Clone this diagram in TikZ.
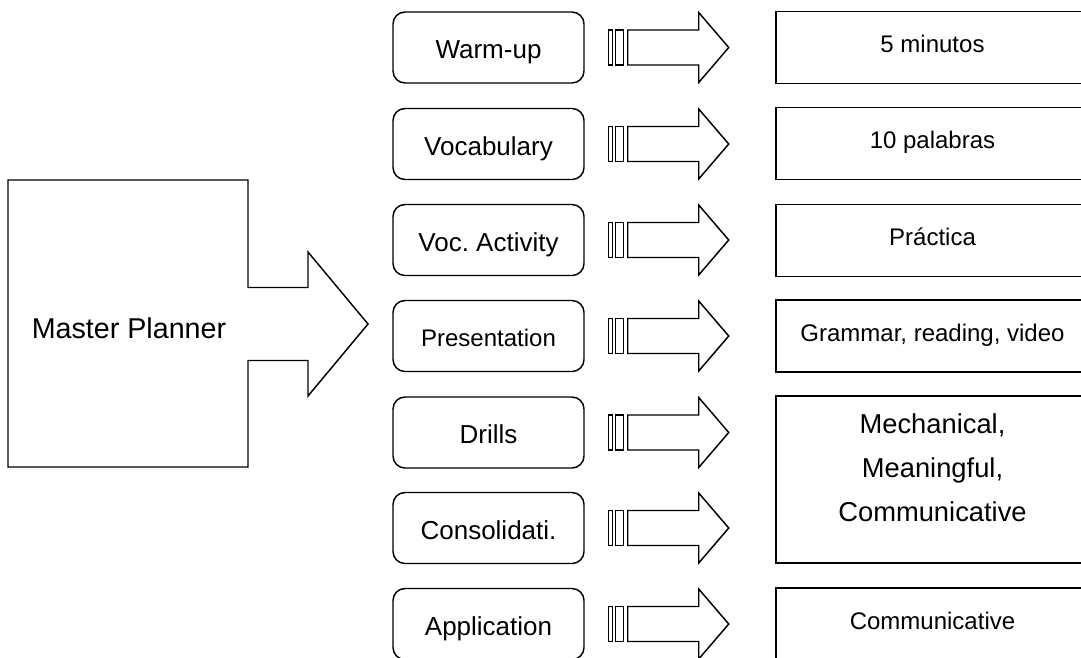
\documentclass[tikz,border=0pt]{standalone}
\usepackage{fontspec}
\setmainfont{Liberation Sans}
\frenchspacing
\tikzset{
  topic/.style={draw, rounded corners=9pt, line width=1.1pt, inner sep=0pt,
    minimum width=143.25pt, minimum height=53.25pt,
    text height=16.5pt, text depth=0pt, font=\fontsize{19.5}{23}\selectfont},
  result/.style={draw, line width=1.1pt, inner sep=0pt,
    minimum width=234.75pt, minimum height=54pt,
    text height=7.5pt, text depth=0pt, font=\fontsize{18}{22}\selectfont},
  stripes/.pic={
    \draw[line width=1.1pt] (0,-17.5) rectangle (4,17.5);
    \draw[line width=1.1pt] (7,-17.5) rectangle (15,17.5);
    \draw[line width=1.1pt] (19,-17.5) -- (90,-17.5) -- (90,-35) -- (120,0)
      -- (90,35) -- (90,17.5) -- (19,17.5) -- cycle;
  }
}
\begin{document}
\begin{tikzpicture}[x=0.75pt, y=-0.75pt]
  \useasboundingbox (0,0) rectangle (1081,657);
  \clip (0,0) rectangle (1081,657);
  % master planner block arrow
  \draw[line width=1.1pt] (8,180) -- (248,180) -- (248,287.5) -- (308,287.5)
    -- (308,252) -- (368,324) -- (308,396) -- (308,360.5) -- (248,360.5)
    -- (248,467) -- (8,467) -- cycle;
  \node[anchor=base, font=\fontsize{21.5}{26}\selectfont] (master) at (129,338) {Master Planner};
  % lesson steps
  \node[topic] (warmup) at (488.5,47.5) {Warm-up};
  \node[topic] (vocab) at (488.5,144) {Vocabulary};
  \node[topic] (vocact) at (488.5,240) {Voc. Activity};
  \node[topic, font=\fontsize{18}{22}\selectfont, text height=16pt] (present) at (488.5,336) {Presentation};
  \node[topic] (drills) at (488.5,432.5) {Drills};
  \node[topic] (consol) at (488.5,528) {Consolidati.};
  \node[topic] (applic) at (488.5,624) {Application};
  % striped arrows
  \path (warmup.east) ++(24,0) pic {stripes};
  \path (vocab.east) ++(24,0) pic {stripes};
  \path (vocact.east) ++(24,0) pic {stripes};
  \path (present.east) ++(24,0) pic {stripes};
  \path (drills.east) ++(24,0) pic {stripes};
  \path (consol.east) ++(24,0) pic {stripes};
  \path (applic.east) ++(24,0) pic {stripes};
  % results
  \node[result] (warmupres) at (932.5,47.5) {5 minutos};
  \node[result] (vocabres) at (932.5,143.5) {10 palabras};
  \node[result] (vocactres) at (932.5,240.5) {Práctica};
  \node[result] (presentres) at (932.5,336) {Grammar, reading, video};
  \node[result, minimum height=125.25pt] (drillsres) at (932.5,479.5) {};
  \node[align=center, font=\fontsize{20.5}{33}\selectfont] (drillstxt) at (932.5,467.5)
    {Mechanical,\\Meaningful,\\Communicative};
  \node[result, minimum height=54.75pt] (applicres) at (932.5,624.5) {Communicative};
\end{tikzpicture}
\end{document}
